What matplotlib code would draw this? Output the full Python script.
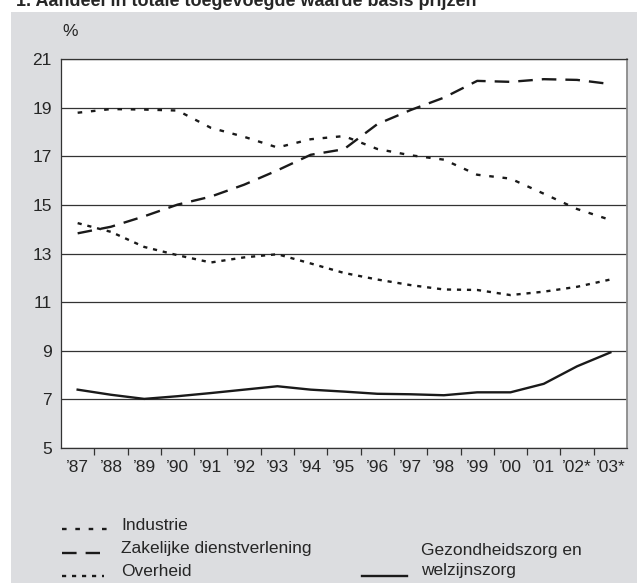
import matplotlib
matplotlib.use("Agg")
import matplotlib.pyplot as plt
from matplotlib.lines import Line2D
from matplotlib.patches import Rectangle
import numpy as np

plt.rcParams["font.family"] = ["Liberation Sans", "DejaVu Sans"]
plt.rcParams["lines.scale_dashes"] = False

years = ["’87", "’88", "’89", "’90", "’91", "’92", "’93", "’94", "’95",
         "’96", "’97", "’98", "’99", "’00", "’01", "’02*", "’03*"]
industrie = [18.79, 18.94, 18.92, 18.88, 18.17, 17.8, 17.36, 17.7, 17.83,
             17.3, 17.04, 16.86, 16.24, 16.08, 15.46, 14.83, 14.38]
zakelijk = [13.83, 14.1, 14.53, 15.01, 15.34, 15.83, 16.42, 17.06, 17.29,
            18.32, 18.9, 19.41, 20.1, 20.06, 20.17, 20.14, 19.97]
overheid = [14.25, 13.89, 13.27, 12.93, 12.63, 12.84, 12.97, 12.59, 12.2,
            11.93, 11.7, 11.52, 11.5, 11.29, 11.43, 11.63, 11.93]
zorg = [7.4, 7.19, 7.02, 7.13, 7.26, 7.4, 7.54, 7.4, 7.32,
        7.23, 7.21, 7.17, 7.29, 7.29, 7.64, 8.36, 8.93]
yticks = [5, 7, 9, 11, 13, 15, 17, 19, 21]

W, H = 637, 583
INK = "#1a1a1a"
TXT = "#262626"
FS = 12.5

fig = plt.figure(figsize=(W / 100, H / 100), dpi=100)
fig.patch.set_facecolor("white")
# grijs kader
fig.add_artist(Rectangle((11 / W, 0), 1 - 11 / W, (H - 12) / H,
                         transform=fig.transFigure, facecolor="#dcdde0",
                         edgecolor="none", zorder=0))

ax = fig.add_axes([61 / W, (H - 448) / H, 566 / W, 389 / H])
ax.set_facecolor("white")

x = np.arange(len(years))
ax.plot(x, industrie, color=INK, lw=1.7, dashes=(3.3, 6.3), zorder=3)
ax.plot(x, zakelijk, color=INK, lw=1.7, dashes=(10.5, 6.5), zorder=3)
ax.plot(x, overheid, color=INK, lw=1.7, dashes=(3.0, 4.2), zorder=3)
ax.plot(x, zorg, color=INK, lw=1.7, zorder=3)

ax.set_xlim(-0.5, len(years) - 0.5)
ax.set_ylim(5, 21)
ax.set_yticks(yticks)
ax.set_yticklabels([str(v) for v in yticks], fontsize=FS, color=TXT)
ax.tick_params(axis="y", length=0, pad=6.5)
ax.yaxis.grid(True, color="#333333", lw=0.9)
ax.set_axisbelow(True)

ax.set_xticks(x)
ax.set_xticklabels(years, fontsize=FS, color=TXT)
ax.tick_params(axis="x", which="major", length=0, pad=8.5)
ax.set_xticks(x[:-1] + 0.5, minor=True)
ax.tick_params(axis="x", which="minor", length=5, width=0.9, color="#333333",
               direction="out")

for side in ["left", "top", "bottom"]:
    ax.spines[side].set_color("#333333")
    ax.spines[side].set_linewidth(0.9)
ax.spines["right"].set_color("#8a8a8a")
ax.spines["right"].set_linewidth(1.3)

fig.text(16 / W, 1 - 6 / H, "1. Aandeel in totale toegevoegde waarde basis prijzen",
         fontsize=13, fontweight="bold", color=TXT, va="baseline", ha="left")
fig.text(62 / W, 1 - 31 / H, "%", fontsize=FS, color=TXT, va="center", ha="left")

# legenda
def handle(x0, x1, y, **kw):
    fig.add_artist(Line2D([x0 / W, x1 / W], [1 - y / H, 1 - y / H],
                          transform=fig.transFigure, color=INK, lw=1.7, **kw))

def label(xp, yp, s):
    fig.text(xp / W, 1 - yp / H, s, fontsize=FS, color=TXT, va="center", ha="left")

handle(62, 107, 529, dashes=(3.3, 6.3))
label(121, 525, "Industrie")
handle(62, 100, 552.5, dashes=(10.5, 6.5))
label(121, 548, "Zakelijke dienstverlening")
handle(62, 104, 576, dashes=(3.0, 4.2))
label(121, 571, "Overheid")
handle(362, 407, 576)
label(421, 550, "Gezondheidszorg en")
label(421, 571, "welzijnszorg")

fig.savefig("out.png", dpi=100)
